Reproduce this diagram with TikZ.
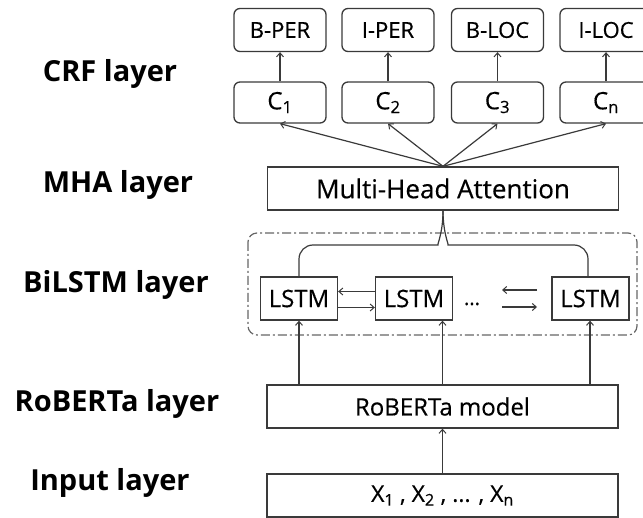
\documentclass[tikz,border=0pt]{standalone}
\usepackage{fontspec}
\setmainfont{Open Sans}
\newfontfamily\boxfont[FakeBold=0.4]{Open Sans}
\usetikzlibrary{arrows.meta}
\definecolor{ln}{HTML}{3A3A3A}
\definecolor{dd}{HTML}{666666}
\tikzset{
  box/.style={draw=ln, line width=1.3pt, rectangle, inner sep=0pt, text=black},
  tag/.style={box, rounded corners=6pt, minimum width=92pt, minimum height=43pt, font=\boxfont\fontsize{22}{24}\selectfont},
  cbox/.style={box, rounded corners=6pt, minimum width=92pt, minimum height=41pt, font=\boxfont\fontsize{24}{26}\selectfont},
  wide/.style={box, minimum width=351pt, minimum height=43pt, font=\boxfont\fontsize{24}{26}\selectfont},
  lstm/.style={box, minimum width=77pt, minimum height=43pt, font=\boxfont\fontsize{24}{26}\selectfont},
  lab/.style={anchor=base, font=\fontsize{29}{32}\selectfont\bfseries, text=black},
  conn/.style={draw=ln, line width=1.2pt},
  arr/.style={conn, -{Straight Barb[length=4pt,width=7pt,line width=1pt]}},
}
\begin{document}
\begin{tikzpicture}[x=1pt,y=-1pt]
\useasboundingbox (0,0) rectangle (643,518);
% left labels
\node[lab] (lcrf) at (110,82) {CRF layer};
\node[lab] (lmha) at (118,193) {MHA layer};
\node[lab] (lbil) at (116,293) {BiLSTM layer};
\node[lab] (lrob) at (117,412) {RoBERTa layer};
\node[lab] (linp) at (110,491) {Input layer};
% tags
\node[tag] (t1) at (280,30) {B-PER};
\node[tag] (t2) at (388,30) {I-PER};
\node[tag] (t3) at (497.5,30) {B-LOC};
\node[tag] (t4) at (606,30) {I-LOC};
% C boxes
\node[cbox] (c1) at (280,102.5) {C\textsubscript{1}};
\node[cbox] (c2) at (388,102.5) {C\textsubscript{2}};
\node[cbox] (c3) at (497.5,102.5) {C\textsubscript{3}};
\node[cbox] (c4) at (606,102.5) {C\textsubscript{n}};
\foreach \i in {1,2,3,4} { \draw[arr] (c\i.north) -- (t\i.south); }
% MHA
\node[wide, font=\boxfont\fontsize{26}{28}\selectfont] (mha) at (443,188.5) {Multi-Head Attention};
\foreach \i in {1,2,3,4} { \draw[arr] (mha.north) -- (c\i.south); }
% BiLSTM group
\draw[draw=dd, line width=1.2pt, rounded corners=9pt, dash pattern=on 9pt off 3pt on 2pt off 3pt] (248,233) rectangle (637,335);
\node[lstm] (l1) at (299,298.5) {LSTM};
\node[lstm] (l2) at (414,298.5) {LSTM};
\node[lstm] (l3) at (590.5,298.5) {LSTM};
\node[anchor=base, font=\boxfont\fontsize{20}{24}\selectfont] (dots) at (472,305) {...};
\draw[arr] ([yshift=7pt]l2.west) -- ([yshift=7pt]l1.east);
\draw[arr] ([yshift=-9pt]l1.east) -- ([yshift=-9pt]l2.west);
\coordinate (ha) at (537,290);
\coordinate (hb) at (502,290);
\coordinate (hc) at (502,307);
\coordinate (hd) at (537,307);
\draw[arr] (ha) -- (hb);
\draw[arr] (hc) -- (hd);
% curves to MHA
\draw[conn, rounded corners=14pt] (l1.north) -- (299,245) -- (424,245) .. controls (437,245) and (443,233) .. (mha.south);
\draw[conn, rounded corners=14pt] (l3.north -| 588,0) -- (588,245) -- (462,245) .. controls (449,245) and (443,233) .. (mha.south);
% RoBERTa
\node[wide] (rob) at (442.5,406.5) {RoBERTa model};
\draw[arr] (rob.north -| l1) -- (l1.south);
\draw[arr] (rob.north) -- (rob.north |- l2.south);
\draw[arr] (rob.north -| 590,0) -- (l3.south -| 590,0);
% Input
\node[wide, font=\boxfont\fontsize{23}{26}\selectfont] (inp) at (442.5,495.5) {X\textsubscript{1} , X\textsubscript{2} , ... , X\textsubscript{n}};
\draw[arr] (inp.north) -- (rob.south);
\end{tikzpicture}
\end{document}
